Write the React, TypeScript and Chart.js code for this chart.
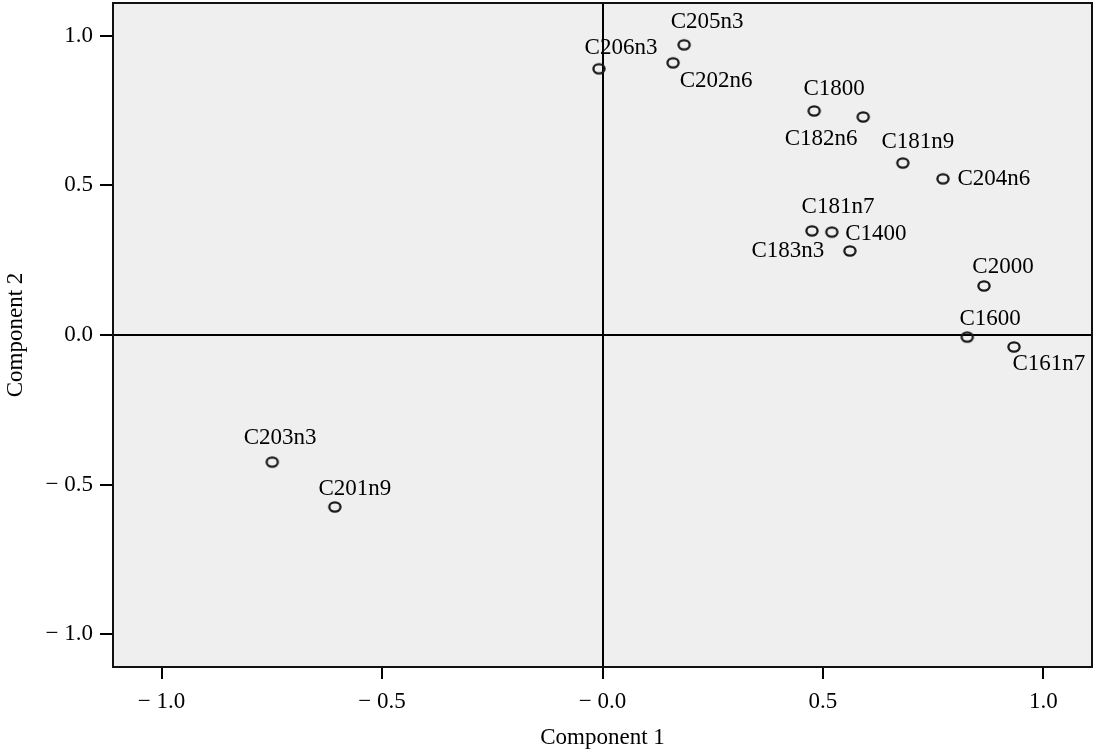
import React, { useEffect, useRef } from "react";
import { Chart, registerables } from "chart.js";

Chart.register(...registerables);

// ---- Data ----
const variables = [
  "C205n3", "C206n3", "C202n6", "C1800", "C182n6", "C181n9", "C204n6",
  "C181n7", "C1400", "C183n3", "C2000", "C1600", "C161n7", "C203n3", "C201n9",
];
const component1 = [
  0.185, -0.008, 0.160, 0.480, 0.591, 0.681, 0.772,
  0.475, 0.520, 0.561, 0.865, 0.827, 0.933, -0.749, -0.607,
];
const component2 = [
  0.970, 0.890, 0.910, 0.749, 0.729, 0.575, 0.522,
  0.348, 0.344, 0.281, 0.164, -0.007, -0.040, -0.425, -0.575,
];
const tickValues = [-1, -0.5, 0, 0.5, 1];
const xTickLabels = ["− 1.0", "− 0.5", "− 0.0", "0.5", "1.0"];
const yTickLabels = ["− 1.0", "− 0.5", "0.0", "0.5", "1.0"];

// ---- Label placement (style, px offsets of label centre from point) ----
const labelOffsetX = [23, 22, 43, 20, -42, 15, 51, 26, 44, -62, 19, 23, 35, 8, 20];
const labelOffsetY = [-23, -21, 18, -22, 22, -21, 0, -24, 2, 0, -19, -18, 17, -24, -18];

const FONT = "'Liberation Serif', 'Times New Roman', serif";
const FONT_SIZE = 23;

function makeMarker(): HTMLCanvasElement {
  const m = document.createElement("canvas");
  m.width = 16;
  m.height = 14;
  const c = m.getContext("2d")!;
  c.lineWidth = 2.3;
  c.strokeStyle = "#1a1a1a";
  c.beginPath();
  c.ellipse(8, 7, 5.6, 4.6, 0, 0, Math.PI * 2);
  c.stroke();
  return m;
}

const bgPlugin = {
  id: "plotBg",
  beforeDraw(chart: any) {
    const { ctx, chartArea } = chart;
    ctx.save();
    ctx.fillStyle = "#efefef";
    ctx.fillRect(chartArea.left, chartArea.top, chartArea.right - chartArea.left, chartArea.bottom - chartArea.top);
    ctx.restore();
  },
  afterDraw(chart: any) {
    const { ctx, chartArea } = chart;
    ctx.save();
    ctx.strokeStyle = "#111";
    ctx.lineWidth = 2;
    ctx.strokeRect(chartArea.left, chartArea.top, chartArea.right - chartArea.left, chartArea.bottom - chartArea.top);
    ctx.restore();
  },
};

const labelPlugin = {
  id: "pointLabels",
  afterDatasetsDraw(chart: any) {
    const { ctx } = chart;
    const meta = chart.getDatasetMeta(0);
    ctx.save();
    ctx.font = `${FONT_SIZE}px ${FONT}`;
    ctx.fillStyle = "#000";
    ctx.textAlign = "center";
    ctx.textBaseline = "middle";
    meta.data.forEach((pt: any, i: number) => {
      ctx.fillText(variables[i], pt.x + labelOffsetX[i], pt.y + labelOffsetY[i]);
    });
    ctx.restore();
  },
};

export default function App() {
  const canvasRef = useRef<HTMLCanvasElement | null>(null);

  useEffect(() => {
    const canvas = canvasRef.current;
    if (!canvas) return;
    const marker = makeMarker();
    const zeroColor = (ctx: any) =>
      ctx.tick && ctx.tick.value === 0 ? "#000" : "rgba(0,0,0,0)";

    const chart = new Chart(canvas, {
      type: "scatter",
      data: {
        datasets: [
          {
            label: "Loadings",
            data: component1.map((x, i) => ({ x, y: component2[i] })),
            pointStyle: marker as any,
            pointRadius: 6,
            pointHoverRadius: 6,
          },
        ],
      },
      options: {
        animation: false,
        responsive: false,
        devicePixelRatio: 1,
        layout: { autoPadding: false, padding: { top: 3, right: 4, left: 0, bottom: 0 } },
        plugins: { legend: { display: false }, tooltip: { enabled: false } },
        scales: {
          x: {
            type: "linear",
            min: -1.11,
            max: 1.11,
            afterBuildTicks: (scale: any) => {
              scale.ticks = tickValues.map((v) => ({ value: v }));
            },
            afterFit: (scale: any) => {
              scale.height = 85;
              scale.paddingLeft = 0;
              scale.paddingRight = 0;
            },
            border: { display: false },
            grid: {
              color: zeroColor,
              lineWidth: 2,
              tickColor: "#000",
              tickLength: 12,
              tickWidth: 2,
              drawTicks: true,
            },
            ticks: {
              font: { family: FONT, size: FONT_SIZE },
              color: "#000",
              padding: 9,
              maxRotation: 0,
              callback: (v: any) => {
                const i = tickValues.indexOf(Number(v));
                return i >= 0 ? xTickLabels[i] : "";
              },
            },
            title: {
              display: true,
              text: "Component 1",
              font: { family: FONT, size: FONT_SIZE },
              color: "#000",
              padding: { top: 0, bottom: 0 },
            },
          },
          y: {
            type: "linear",
            min: -1.11,
            max: 1.11,
            afterBuildTicks: (scale: any) => {
              scale.ticks = tickValues.map((v) => ({ value: v }));
            },
            afterFit: (scale: any) => {
              scale.width = 113;
              scale.paddingTop = 0;
              scale.paddingBottom = 0;
            },
            border: { display: false },
            grid: {
              color: zeroColor,
              lineWidth: 2,
              tickColor: "#000",
              tickLength: 13,
              tickWidth: 2,
              drawTicks: true,
            },
            ticks: {
              font: { family: FONT, size: FONT_SIZE },
              color: "#000",
              padding: 7,
              callback: (v: any) => {
                const i = tickValues.indexOf(Number(v));
                return i >= 0 ? yTickLabels[i] : "";
              },
            },
            title: {
              display: true,
              text: "Component 2",
              font: { family: FONT, size: FONT_SIZE },
              color: "#000",
              padding: { top: 2, bottom: 0 },
            },
          },
        },
      },
      plugins: [bgPlugin, labelPlugin],
    });

    return () => chart.destroy();
  }, []);

  return (
    <div style={{ position: "absolute", left: 0, top: 0, width: 1096, height: 752, background: "#fff" }}>
      <canvas ref={canvasRef} width={1096} height={752} style={{ display: "block" }} />
    </div>
  );
}
